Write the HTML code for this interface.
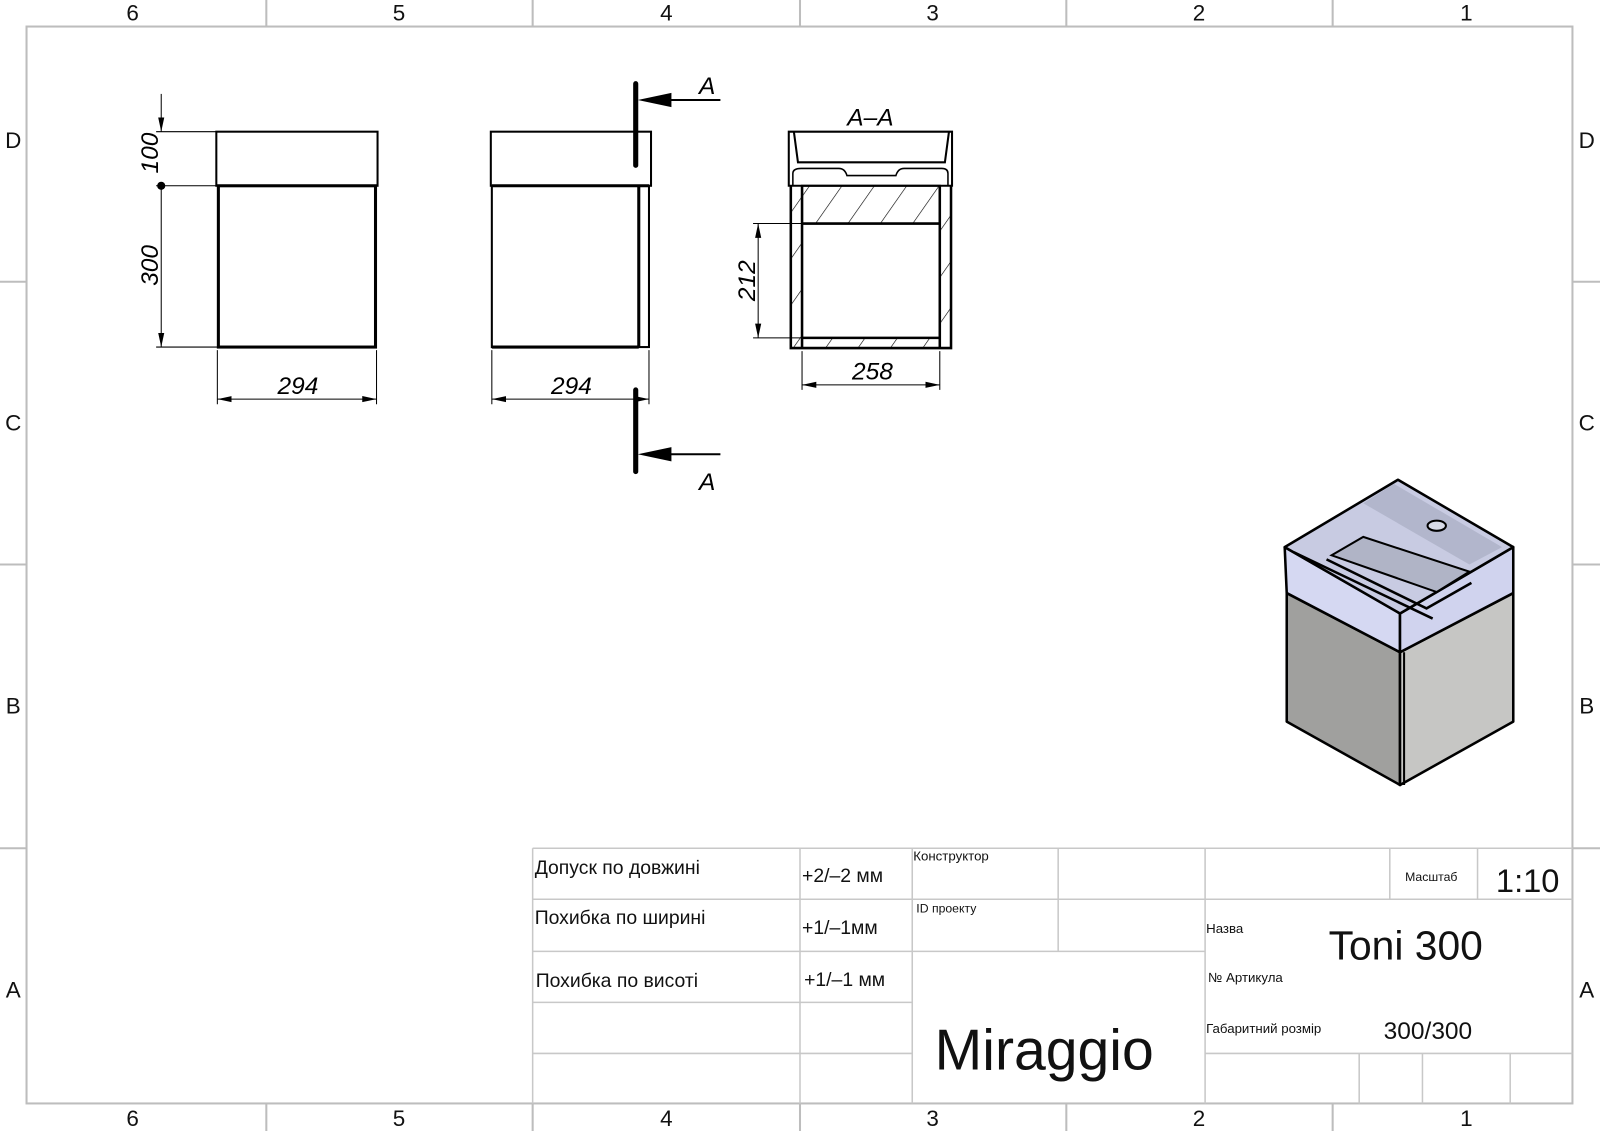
<!DOCTYPE html>
<html><head><meta charset="utf-8"><style>
html,body{margin:0;padding:0;background:#fff;}
svg{display:block;}
text{font-family:"Liberation Sans","DejaVu Sans",sans-serif;}
.d{font-style:italic;font-size:24px;}
</style></head><body>
<svg width="1600" height="1131" viewBox="0 0 1568 1108" preserveAspectRatio="none" xmlns="http://www.w3.org/2000/svg">
<defs>
<marker id="ar" markerWidth="14" markerHeight="8" refX="14" refY="4" orient="auto-start-reverse" markerUnits="userSpaceOnUse"><path d="M0,1 L14,4 L0,7 Z" fill="#000"/></marker>
<pattern id="h" patternUnits="userSpaceOnUse" width="26" height="26" patternTransform="rotate(35)"><line x1="0" y1="0" x2="0" y2="26" stroke="#000" stroke-width="1.2"/></pattern>
</defs>
<rect width="1568" height="1108" fill="#fff"/>
<g stroke="#bdbdbd" stroke-width="2" fill="none">
<rect x="26" y="26" width="1515" height="1055"/>
<path d="M261 0V26M522 0V26M784 0V26M1045 0V26M1306 0V26M261 1081V1108M522 1081V1108M784 1081V1108M1045 1081V1108M1306 1081V1108M0 276H26M0 553H26M0 831H26M1541 276H1568M1541 553H1568M1541 831H1568"/>
</g>
<g font-size="22" text-anchor="middle" fill="#111">
<text x="130" y="20">6</text><text x="391" y="20">5</text><text x="653" y="20">4</text><text x="914" y="20">3</text><text x="1175" y="20">2</text><text x="1437" y="20">1</text>
<text x="130" y="1103">6</text><text x="391" y="1103">5</text><text x="653" y="1103">4</text><text x="914" y="1103">3</text><text x="1175" y="1103">2</text><text x="1437" y="1103">1</text>
<text x="13" y="145">D</text><text x="13" y="422">C</text><text x="13" y="699">B</text><text x="13" y="977">A</text>
<text x="1555" y="145">D</text><text x="1555" y="422">C</text><text x="1555" y="699">B</text><text x="1555" y="977">A</text>
</g>
<g stroke="#000" fill="none">
<rect x="212" y="129" width="158" height="53" stroke-width="2"/>
<rect x="214" y="182" width="154" height="158" stroke-width="3"/>
<path d="M153 129H212M153 182H214M153 340H214M213 343V396M369 343V396" stroke-width="1"/>
<line x1="158" y1="92" x2="158" y2="129" stroke-width="1" marker-end="url(#ar)"/>
<line x1="158" y1="182" x2="158" y2="340" stroke-width="1" marker-end="url(#ar)"/>
<line x1="213" y1="391" x2="369" y2="391" stroke-width="1" marker-start="url(#ar)" marker-end="url(#ar)"/>
</g>
<circle cx="158" cy="182" r="4"/>
<text class="d" transform="translate(155,150) rotate(-90)" text-anchor="middle">100</text>
<text class="d" transform="translate(155,260) rotate(-90)" text-anchor="middle">300</text>
<text class="d" x="292" y="386" text-anchor="middle">294</text>
<g stroke="#000" fill="none">
<rect x="481" y="129" width="157" height="53" stroke-width="2"/>
<rect x="482" y="182" width="154" height="158" stroke-width="2"/>
<path d="M482 182H636M482 340H626M626 182V340" stroke-width="3"/>
<path d="M482 343V396M636 343V396" stroke-width="1"/>
<line x1="482" y1="391" x2="636" y2="391" stroke-width="1" marker-start="url(#ar)" marker-end="url(#ar)"/>
<path d="M623 82V162M623 382V462" stroke-width="5" stroke-linecap="round"/>
<path d="M706 98H650M706 445H650" stroke-width="2"/>
</g>
<path d="M625 98L658 91V105Z M625 445L658 438V452Z"/>
<text class="d" x="560" y="386" text-anchor="middle">294</text>
<text class="d" x="693" y="92" font-size="32" text-anchor="middle">A</text>
<text class="d" x="693" y="480" font-size="32" text-anchor="middle">A</text>
<text class="d" x="853" y="123" font-size="34" text-anchor="middle">A–A</text>
<g stroke="#000" fill="none">
<rect x="786" y="182" width="135" height="37" fill="url(#h)" stroke-width="2"/>
<rect x="775" y="182" width="11" height="159" fill="url(#h)"/>
<rect x="921" y="182" width="11" height="159" fill="url(#h)"/>
<rect x="786" y="331" width="135" height="10" fill="url(#h)"/>
<path d="M773 129H933V182H773Z" stroke-width="2"/>
<path d="M778 129L782 159H926L930 129" stroke-width="2"/>
<path d="M777 182V170Q777 165 785 165H822Q828 165 830 172H878Q880 165 886 165H923Q929 165 929 170V182" stroke-width="1.5"/>
<path d="M775 182V341H932V182M786 182V341M921 182V341M786 219H921M786 331H921" stroke-width="2.5"/>
<path d="M738 219H786M738 331H786M786 344V382M921 344V382" stroke-width="1"/>
<line x1="743" y1="219" x2="743" y2="331" stroke-width="1" marker-start="url(#ar)" marker-end="url(#ar)"/>
<line x1="786" y1="377" x2="921" y2="377" stroke-width="1" marker-start="url(#ar)" marker-end="url(#ar)"/>
</g>
<text class="d" transform="translate(740,275) rotate(-90)" text-anchor="middle">212</text>
<text class="d" x="855" y="372" text-anchor="middle">258</text>
<g stroke="#000" stroke-width="2.5" stroke-linejoin="round">
<path d="M1261 581L1372 639L1372 769L1261 707Z" fill="#a0a09e"/>
<path d="M1372 639L1483 581L1483 707L1372 769Z" fill="#c6c6c4"/>
<path d="M1259 536L1372 601L1372 639L1261 581Z" fill="#d5d8f2"/>
<path d="M1372 601L1483 536L1483 581L1372 639Z" fill="#d0d3ee"/>
<path d="M1370 470L1483 536L1372 601L1259 536Z" fill="#c8cbe2"/>
</g>
<path d="M1366 474L1472 536L1440 553L1336 493Z" fill="#b2b6cc"/>
<path d="M1305 544L1336 526L1440 560L1408 580Z" fill="#b0b4c6" stroke="#000" stroke-width="2"/>
<path d="M1268 541L1404 606M1300 548L1398 596L1442 571" stroke="#000" stroke-width="2.5" fill="none"/>
<path d="M1376 639V769" stroke="#000" stroke-width="2"/>
<ellipse cx="1408" cy="515" rx="9" ry="5" fill="#d8dbe8" stroke="#000" stroke-width="2"/>
<g stroke="#c8c8c8" stroke-width="1.5" fill="none">
<path d="M522 831H1541M522 881H1181M1181 881H1541M522 932H1181M522 982H894M522 1032H894M1181 1032H1541"/>
<path d="M522 831V1081M784 831V1081M894 831V1081M1037 831V932M1181 831V1081M1362 831V881M1448 831V881M1332 1032V1081M1394 1032V1081M1480 1032V1081"/>
</g>
<g fill="#111">
<text x="524" y="856" font-size="19">Допуск по довжині</text>
<text x="524" y="905" font-size="19">Похибка по ширині</text>
<text x="525" y="967" font-size="19">Похибка по висоті</text>
<text x="786" y="864" font-size="19">+2/–2 мм</text>
<text x="786" y="915" font-size="19">+1/–1мм</text>
<text x="788" y="966" font-size="19">+1/–1 мм</text>
<text x="895" y="843" font-size="13">Конструктор</text>
<text x="898" y="894" font-size="12">ID проекту</text>
<text x="916" y="1048" font-size="56">Miraggio</text>
<text x="1377" y="863" font-size="12">Масштаб</text>
<text x="1466" y="874" font-size="32">1:10</text>
<text x="1182" y="914" font-size="13">Назва</text>
<text x="1302" y="940" font-size="40">Toni 300</text>
<text x="1184" y="962" font-size="13">№   Артикула</text>
<text x="1182" y="1012" font-size="13">Габаритний розмір</text>
<text x="1356" y="1018" font-size="24">300/300</text>
</g>
</svg>
</body></html>
